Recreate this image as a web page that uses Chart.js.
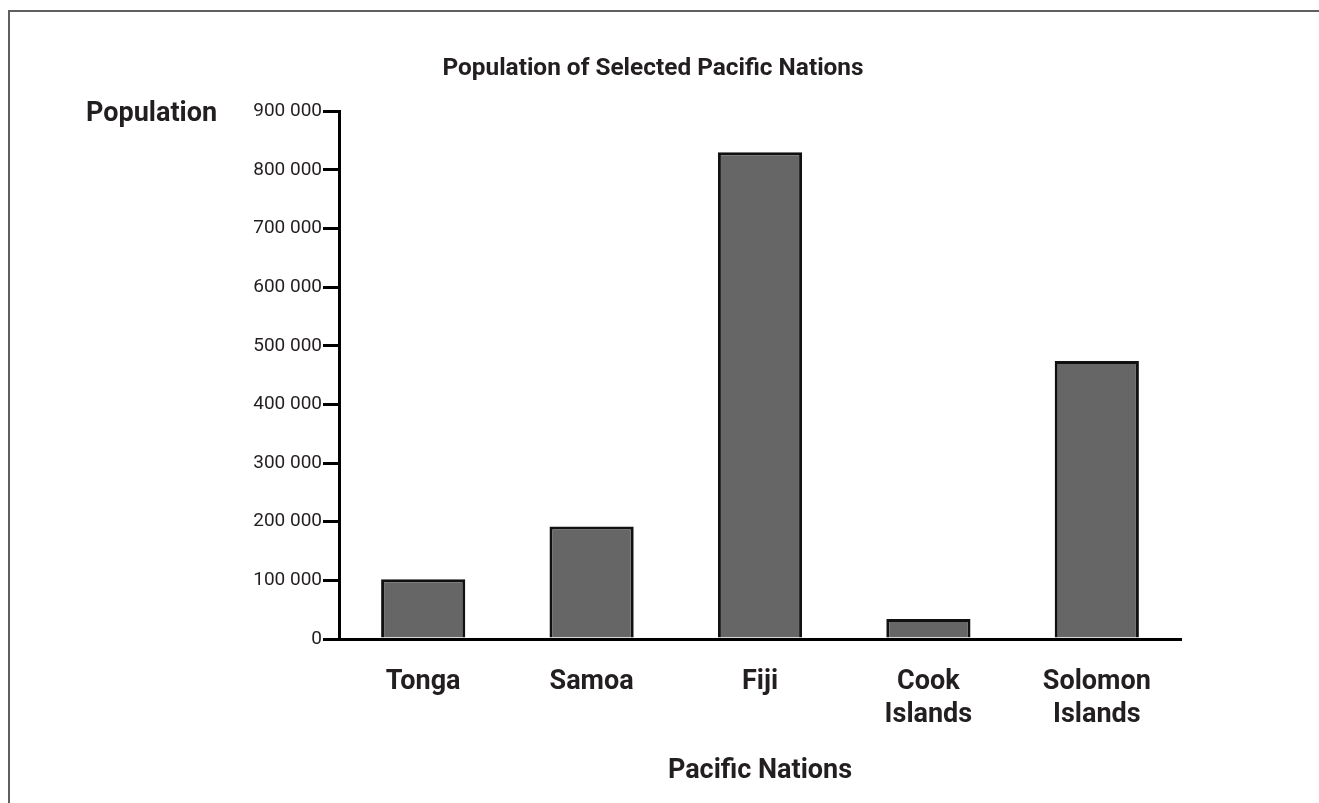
<!DOCTYPE html>
<html>
<head>
<meta charset="utf-8">
<script src="https://cdn.jsdelivr.net/npm/chart.js@4/dist/chart.umd.min.js"></script>
<style>
  body { margin: 0; background: #fff; overflow: hidden; }
</style>
</head>
<body>
<canvas id="chart" width="1319" height="803"></canvas>
<script>
// data
var nations = [['Tonga'], ['Samoa'], ['Fiji'], ['Cook', 'Islands'], ['Solomon', 'Islands']];
var population = [102000, 192000, 830000, 34000, 474000];
var yTicks = [0, 100000, 200000, 300000, 400000, 500000, 600000, 700000, 800000, 900000];

var textColor = '#231f20';
var font = "Roboto, 'Open Sans', sans-serif";

function spaced(v) {
    return String(v).replace(/\B(?=(\d{3})+(?!\d))/g, ' ');
}

//grey frame (only left and top edges are in the picture)
var frame = {
    id: 'frame',
    beforeDraw: function (chart) {
        var ctx = chart.ctx;
        ctx.save();
        ctx.strokeStyle = '#5f5f5f';
        ctx.lineWidth = 2;
        ctx.beginPath();
        ctx.moveTo(9, chart.height);
        ctx.lineTo(9, 11);
        ctx.lineTo(chart.width, 11);
        ctx.stroke();
        ctx.restore();
    }
};

//horizontal "Population" label next to the top tick
var yLabel = {
    id: 'yLabel',
    afterDraw: function (chart) {
        var ctx = chart.ctx;
        var y = chart.scales.y.getPixelForValue(yTicks[yTicks.length - 1]);
        ctx.save();
        ctx.font = 'bold 27px ' + font;
        ctx.fillStyle = textColor;
        ctx.textAlign = 'left';
        ctx.textBaseline = 'middle';
        ctx.fillText('Population', 86, y + 3);
        ctx.restore();
    }
};

var ctx = document.getElementById('chart');
var myChart = new Chart(ctx, {
    type: 'bar',
    data: {
        labels: nations,
        datasets: [{
            data: population,
            backgroundColor: '#666666',
            borderColor: '#111111',
            borderWidth: 3,
            barPercentage: 0.5,
            categoryPercentage: 1.0
        }]
    },
    plugins: [frame, yLabel],
    options: {
        responsive: false,
        animation: false,
        layout: { padding: { left: 125, right: 138, top: 0, bottom: 0 } },
        plugins: {
            legend: { display: false },
            tooltip: { enabled: false },
            title: {
                display: true,
                text: 'Population of Selected Pacific Nations',
                color: textColor,
                font: { family: font, size: 24.4, weight: 'bold', lineHeight: 1.2 },
                padding: { top: 54, bottom: 28 }
            }
        },
        scales: {
            x: {
                grid: { display: false, drawTicks: false },
                border: { display: true, width: 3, color: '#000' },
                ticks: {
                    color: textColor,
                    padding: 27,
                    maxRotation: 0,
                    font: { family: font, size: 27, weight: 'bold', lineHeight: 1.22 }
                },
                title: {
                    display: true,
                    text: 'Pacific Nations',
                    color: textColor,
                    font: { family: font, size: 27, weight: 'bold', lineHeight: 1.2 },
                    padding: { top: 0, bottom: 16 }
                },
                afterFit: function (s) { s.height = 164; }
            },
            y: {
                min: 0,
                max: 900000,
                afterBuildTicks: function (s) {
                    s.ticks = yTicks.map(function (v) { return { value: v }; });
                },
                grid: {
                    drawOnChartArea: false,
                    drawTicks: true,
                    tickLength: 16,
                    lineWidth: 3,
                    color: '#000'
                },
                border: { display: true, width: 3, color: '#000' },
                ticks: {
                    color: textColor,
                    padding: 1,
                    font: { family: font, size: 19 },
                    callback: function (v) { return spaced(v); }
                },
                afterFit: function (s) { s.width = 214; }
            }
        }
    }
});
</script>
</body>
</html>
